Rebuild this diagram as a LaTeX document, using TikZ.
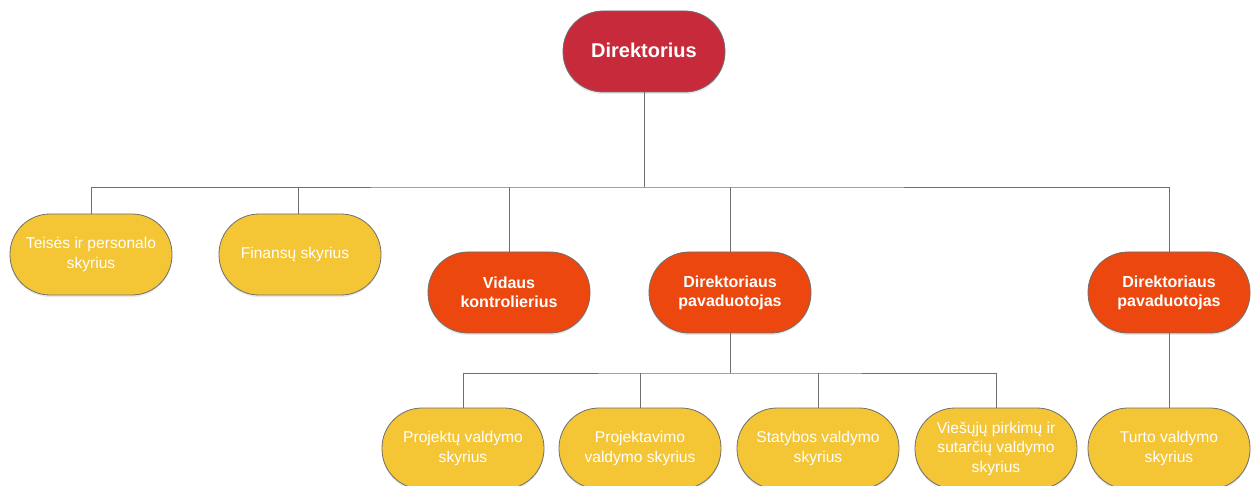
\documentclass[tikz,border=0pt]{standalone}
\usepackage{fontspec}
\setmainfont{Liberation Sans}
\usetikzlibrary{shadows}
\definecolor{dirred}{HTML}{C72A3B}
\definecolor{deporange}{HTML}{EB470E}
\definecolor{unityellow}{HTML}{F4C535}
\definecolor{edgegray}{HTML}{6F6F6F}
\begin{document}
\begin{tikzpicture}[x=1pt,y=-1pt,
  box/.style={rectangle, rounded corners=40pt, minimum width=162pt, minimum height=81pt,
    draw=edgegray, line width=0.8pt, text=white, align=center, inner sep=0pt,
    drop shadow={shadow xshift=0pt, shadow yshift=-2pt, opacity=0.18}},
  dirbox/.style={box, fill=dirred, font=\fontsize{20}{24}\selectfont\bfseries},
  depbox/.style={box, fill=deporange, font=\fontsize{16}{19}\selectfont\bfseries},
  unitbox/.style={box, fill=unityellow, font=\fontsize{15.6}{19.5}\selectfont},
  link/.style={draw=edgegray, line width=0.8pt}]
\useasboundingbox (0,0) rectangle (1253,486);
\clip (0,0) rectangle (1253,486);
\coordinate (top) at (644,187);
\coordinate (mid) at (730,373);

\node[dirbox] (dir) at (644,51.5) {\raisebox{3pt}{Direktorius}};

\node[unitbox] (teis) at (91,254.5) {\raisebox{1pt}{Teisės ir personalo}\\skyrius};
\node[unitbox] (fin) at (300,254.5) {\hspace*{-10pt}Finansų skyrius};
\node[depbox] (vid) at (509,292.5) {Vidaus\\kontrolierius};
\node[depbox] (pav1) at (730,292.5) {Direktoriaus\\pavaduotojas};
\node[depbox] (pav2) at (1169,292.5) {Direktoriaus\\pavaduotojas};

\node[unitbox] (proj) at (463,448.5) {Projektų valdymo\\skyrius};
\node[unitbox] (projv) at (640,448.5) {Projektavimo\\valdymo skyrius};
\node[unitbox] (stat) at (818,448.5) {Statybos valdymo\\skyrius};
\node[unitbox] (vies) at (996,448.5) {Viešųjų pirkimų ir\\sutarčių valdymo\\skyrius};
\node[unitbox] (turt) at (1169,448.5) {Turto valdymo\\skyrius};

\path[link] (dir.south) -- (top);
\path[link] (teis.north) |- (top) -| (pav2.north);
\path[link] ([xshift=-2pt]fin.north) -- ([xshift=-2pt]fin.north |- top);
\path[link] (vid.north) -- (vid.north |- top);
\path[link] (pav1.north) -- (pav1.north |- top);
\path[link] (pav1.south) -- (mid);
\path[link] (proj.north) |- (mid) -| (vies.north);
\path[link] (projv.north) -- (projv.north |- mid);
\path[link] (stat.north) -- (stat.north |- mid);
\path[link] (pav2.south) -- (turt.north);
\end{tikzpicture}
\end{document}
